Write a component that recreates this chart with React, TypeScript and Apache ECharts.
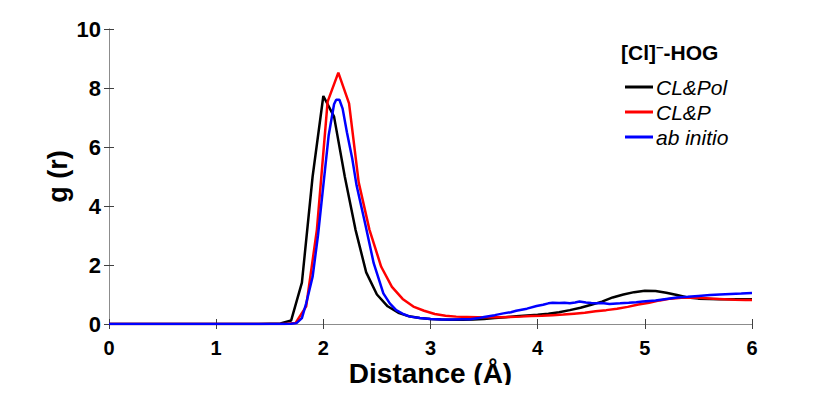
import React, { useEffect, useRef } from "react";
import * as echarts from "echarts";

const FONT = "'Liberation Sans', Arial, Helvetica, sans-serif";

const seriesNames = ["CL&Pol", "CL&P", "ab initio"];
const seriesColors = ["#000000", "#ff0000", "#0000ff"];

const xTicks = [0, 1, 2, 3, 4, 5, 6];
const yTicks = [0, 2, 4, 6, 8, 10];

const clPolR = [0, 0.2, 0.4, 0.6, 0.8, 1.0, 1.2, 1.4, 1.6, 1.7, 1.8, 1.9, 2.0, 2.1, 2.2, 2.3, 2.4, 2.5, 2.6, 2.7, 2.8, 2.9, 3.0, 3.1, 3.2, 3.3, 3.4, 3.5, 3.6, 3.7, 3.8, 3.9, 4.0, 4.1, 4.2, 4.3, 4.4, 4.5, 4.6, 4.7, 4.8, 4.9, 5.0, 5.1, 5.2, 5.3, 5.4, 5.5, 5.6, 5.7, 5.8, 5.9, 6.0];
const clPolG = [0, 0, 0, 0, 0, 0, 0, 0, 0.02, 0.12, 1.4, 5.0, 7.73, 7.03, 5.0, 3.2, 1.75, 1.0, 0.6, 0.38, 0.26, 0.2, 0.17, 0.15, 0.14, 0.14, 0.15, 0.17, 0.2, 0.23, 0.26, 0.29, 0.31, 0.35, 0.4, 0.47, 0.55, 0.65, 0.76, 0.9, 1.0, 1.08, 1.13, 1.12, 1.06, 0.98, 0.9, 0.86, 0.85, 0.84, 0.84, 0.84, 0.84];

const clPR = [0, 0.2, 0.4, 0.6, 0.8, 1.0, 1.2, 1.4, 1.64, 1.74, 1.84, 1.94, 2.04, 2.14, 2.24, 2.33, 2.43, 2.54, 2.64, 2.74, 2.84, 2.94, 3.04, 3.14, 3.24, 3.34, 3.44, 3.54, 3.64, 3.74, 3.84, 3.94, 4.04, 4.14, 4.24, 4.34, 4.44, 4.54, 4.64, 4.74, 4.84, 4.94, 5.04, 5.14, 5.24, 5.34, 5.44, 5.54, 5.64, 5.74, 5.84, 5.94, 6.0];
const clPG = [0, 0, 0, 0, 0, 0, 0, 0, 0, 0.03, 0.6, 3.2, 7.54, 8.52, 7.48, 4.8, 3.2, 1.94, 1.26, 0.85, 0.59, 0.45, 0.34, 0.28, 0.25, 0.24, 0.23, 0.23, 0.23, 0.24, 0.25, 0.27, 0.28, 0.3, 0.32, 0.35, 0.38, 0.43, 0.47, 0.52, 0.58, 0.66, 0.72, 0.8, 0.86, 0.89, 0.9, 0.88, 0.86, 0.84, 0.82, 0.81, 0.81];

const abR = [0, 0.4, 0.8, 1.2, 1.6, 1.7, 1.75, 1.8, 1.84, 1.9, 1.95, 2.0, 2.05, 2.1, 2.12, 2.15, 2.18, 2.22, 2.27, 2.31, 2.39, 2.47, 2.56, 2.62, 2.68, 2.75, 2.81, 2.9, 3.0, 3.1, 3.2, 3.3, 3.37, 3.45, 3.5, 3.6, 3.68, 3.75, 3.8, 3.9, 3.99, 4.05, 4.1, 4.14, 4.2, 4.25, 4.3, 4.35, 4.39, 4.45, 4.5, 4.55, 4.6, 4.67, 4.77, 4.85, 4.92, 4.98, 5.1, 5.2, 5.3, 5.4, 5.5, 5.61, 5.7, 5.8, 5.9, 6.0];
const abG = [0, 0, 0, 0, 0, 0.005, 0.03, 0.2, 0.7, 1.6, 3.0, 4.7, 6.4, 7.45, 7.6, 7.6, 7.3, 6.5, 5.6, 4.7, 3.41, 2.06, 1.04, 0.7, 0.47, 0.33, 0.25, 0.2, 0.17, 0.15, 0.15, 0.16, 0.16, 0.2, 0.24, 0.3, 0.36, 0.4, 0.45, 0.52, 0.61, 0.65, 0.7, 0.72, 0.71, 0.72, 0.7, 0.73, 0.76, 0.73, 0.71, 0.7, 0.71, 0.68, 0.7, 0.72, 0.74, 0.76, 0.8, 0.85, 0.9, 0.92, 0.95, 0.98, 1.0, 1.02, 1.03, 1.05];

const zip = (xs: number[], ys: number[]) => xs.map((x, i) => [x, ys[i]]);

export default function App() {
  const ref = useRef<HTMLDivElement>(null);
  useEffect(() => {
    if (!ref.current) return;
    const chart = echarts.init(ref.current, null, { renderer: "svg" });
    const datasets = [zip(clPolR, clPolG), zip(clPR, clPG), zip(abR, abG)];
    const axisLineColor = "#8c8c8c";
    const tickColor = "#404040";
    chart.setOption({
      animation: false,
      backgroundColor: "#ffffff",
      grid: { left: 109, right: 78, top: 29, bottom: 69, containLabel: false, outerBoundsMode: "none" },
      legend: {
        orient: "vertical",
        left: 620,
        top: 71,
        itemWidth: 28,
        itemHeight: 3,
        itemGap: 3,
        icon: "rect",
        data: seriesNames,
        textStyle: { fontFamily: FONT, fontSize: 21, fontStyle: "italic", color: "#000", lineHeight: 22, padding: [0, 0, 0, -2] },
      },
      graphic: [
        {
          type: "text",
          left: 621,
          top: 41,
          style: {
            text: "[Cl]{sup|−}-HOG",
            fontFamily: FONT,
            fontSize: 21,
            fontWeight: "bold",
            fill: "#000",
            rich: {
              sup: { fontFamily: FONT, fontSize: 13, fontWeight: "bold", verticalAlign: "top", padding: [0, 0, 10, 0] },
            },
          },
        },
      ],
      xAxis: [
        {
          type: "value",
          min: xTicks[0],
          max: xTicks[xTicks.length - 1],
          interval: 1,
          name: "Distance (Å)",
          nameLocation: "middle",
          nameGap: 36,
          nameMoveOverlap: false,
          nameTextStyle: { fontFamily: FONT, fontSize: 28, fontWeight: "bold", color: "#000", verticalAlign: "top", lineHeight: 26 },
          axisLine: { show: true, lineStyle: { color: axisLineColor, width: 1 } },
          axisTick: { show: true, inside: true, length: 5, lineStyle: { color: tickColor } },
          axisLabel: { fontFamily: FONT, fontSize: 20, fontWeight: "bold", color: "#000", margin: 16, lineHeight: 16 },
          splitLine: { show: false },
        },
        {
          type: "value",
          position: "top",
          min: xTicks[0],
          max: xTicks[xTicks.length - 1],
          interval: 1,
          axisLine: { show: true, lineStyle: { color: axisLineColor, width: 1 } },
          axisTick: { show: true, inside: true, length: 5, lineStyle: { color: tickColor } },
          axisLabel: { show: false },
          splitLine: { show: false },
        },
      ],
      yAxis: [
        {
          type: "value",
          min: yTicks[0],
          max: yTicks[yTicks.length - 1],
          interval: 2,
          name: "g (r)",
          nameLocation: "middle",
          nameGap: 38,
          nameMoveOverlap: false,
          nameTextStyle: { fontFamily: FONT, fontSize: 27, fontWeight: "bold", color: "#000" },
          axisLine: { show: true, lineStyle: { color: axisLineColor, width: 1 } },
          axisTick: { show: true, inside: true, length: 5, lineStyle: { color: tickColor } },
          axisLabel: { fontFamily: FONT, fontSize: 22, fontWeight: "bold", color: "#000", margin: 8 },
          splitLine: { show: false },
        },
        {
          type: "value",
          position: "right",
          min: yTicks[0],
          max: yTicks[yTicks.length - 1],
          interval: 2,
          axisLine: { show: true, lineStyle: { color: axisLineColor, width: 1 } },
          axisTick: { show: true, inside: true, length: 5, lineStyle: { color: tickColor } },
          axisLabel: { show: false },
          splitLine: { show: false },
        },
      ],
      series: seriesNames.map((name, i) => ({
        name,
        type: "line",
        data: datasets[i],
        showSymbol: false,
        symbol: "none",
        smooth: false,
        color: seriesColors[i],
        lineStyle: { color: seriesColors[i], width: 2.5 },
        itemStyle: { color: seriesColors[i] },
        z: 2 + i,
      })),
    });
    return () => chart.dispose();
  }, []);
  return <div ref={ref} style={{ width: 830, height: 393, margin: -8 }} />;
}
